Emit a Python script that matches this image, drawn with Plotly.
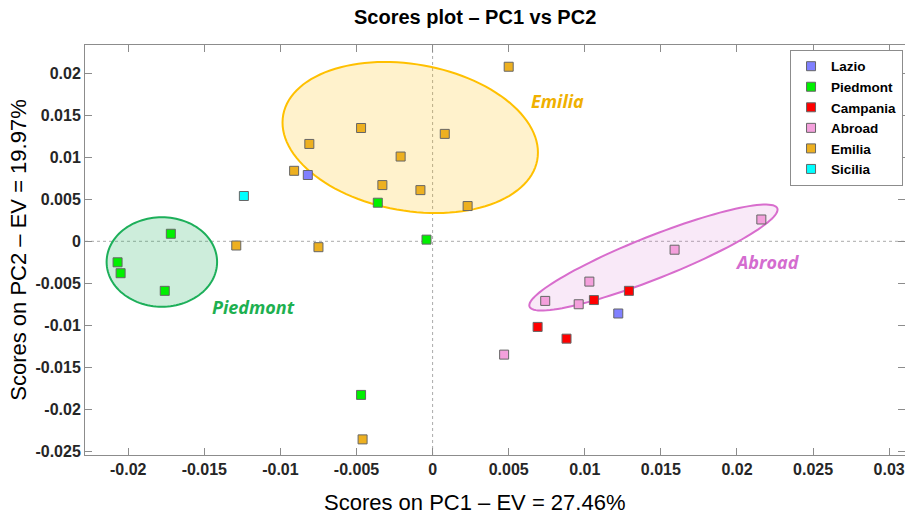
import numpy as np
import plotly.graph_objects as go

# PCA scores (PC1, PC2) per origin
groups = ["Lazio", "Piedmont", "Campania", "Abroad", "Emilia", "Sicilia"]

lazio_x = [-0.0082, 0.0122]
lazio_y = [0.0079, -0.0086]

piedmont_x = [-0.0172, -0.0207, -0.0205, -0.0176, -0.0036, -0.0004, -0.0047]
piedmont_y = [0.0009, -0.0025, -0.0038, -0.0059, 0.0046, 0.0002, -0.0183]

campania_x = [0.0069, 0.0088, 0.0106, 0.0129]
campania_y = [-0.0102, -0.0116, -0.0070, -0.0059]

abroad_x = [0.0216, 0.0159, 0.0103, 0.0074, 0.0096, 0.0047]
abroad_y = [0.0026, -0.0010, -0.0048, -0.0071, -0.0075, -0.0135]

emilia_x = [0.0050, -0.0047, -0.0081, -0.0021, 0.0008, -0.0091,
            -0.0033, -0.0008, 0.0023, -0.0129, -0.0075, -0.0046]
emilia_y = [0.0208, 0.0135, 0.0116, 0.0101, 0.0128, 0.0084,
            0.0067, 0.0061, 0.0042, -0.0005, -0.0007, -0.0236]

sicilia_x = [-0.0124]
sicilia_y = [0.0054]

x_ticks = [-0.02, -0.015, -0.01, -0.005, 0, 0.005, 0.01, 0.015, 0.02, 0.025, 0.03]
x_tick_text = ["-0.02", "-0.015", "-0.01", "-0.005", "0", "0.005", "0.01",
               "0.015", "0.02", "0.025", "0.03"]
y_ticks = [-0.025, -0.02, -0.015, -0.01, -0.005, 0, 0.005, 0.01, 0.015, 0.02]
y_tick_text = ["-0.025", "-0.02", "-0.015", "-0.01", "-0.005", "0", "0.005",
               "0.01", "0.015", "0.02"]

# Cluster ellipses: centre, first half-axis vector, second half-axis vector
ellipse_names = ["Emilia", "Piedmont", "Abroad"]
ellipse_centres = [(-0.00147, 0.01237), (-0.01779, -0.00246), (0.01451, -0.00193)]
ellipse_axis_a = [(0.00838, -0.00133), (0.00363, 0.0), (0.00814, 0.00586)]
ellipse_axis_b = [(-0.00043, 0.00890), (0.0, 0.00533), (0.000515, -0.00235)]
ellipse_line = ["#FFC000", "#1DAF5A", "#D86DCD"]
ellipse_fill = ["rgba(255,192,0,0.20)", "rgba(29,175,90,0.22)", "rgba(216,109,205,0.15)"]

# Cluster name labels
label_text = ["Emilia", "Piedmont", "Abroad"]
label_x = [0.0082, -0.0118, 0.0220]
label_y = [0.0167, -0.0078, -0.0025]
label_color = ["#F0B000", "#1DB050", "#D46CCF"]

colors = {
    "Lazio": "#8080FF",
    "Piedmont": "#00F000",
    "Campania": "#FF0000",
    "Abroad": "#F4A0DC",
    "Emilia": "#EDB020",
    "Sicilia": "#00FFFF",
}
series = {
    "Lazio": (lazio_x, lazio_y),
    "Piedmont": (piedmont_x, piedmont_y),
    "Campania": (campania_x, campania_y),
    "Abroad": (abroad_x, abroad_y),
    "Emilia": (emilia_x, emilia_y),
    "Sicilia": (sicilia_x, sicilia_y),
}

fig = go.Figure()

for g in groups:
    xs, ys = series[g]
    fig.add_trace(go.Scatter(
        x=xs, y=ys, mode="markers", name=f"<b>{g}</b>",
        marker=dict(symbol="square", size=9, color=colors[g],
                    line=dict(color="#666666", width=1)),
    ))

shapes = []
t = np.linspace(0, 2 * np.pi, 121)
for c, a, b, lc, fc in zip(ellipse_centres, ellipse_axis_a, ellipse_axis_b,
                           ellipse_line, ellipse_fill):
    px = c[0] + a[0] * np.cos(t) + b[0] * np.sin(t)
    py = c[1] + a[1] * np.cos(t) + b[1] * np.sin(t)
    path = "M " + " L ".join(f"{u:.6f},{v:.6f}" for u, v in zip(px, py)) + " Z"
    shapes.append(dict(type="path", path=path, xref="x", yref="y",
                       line=dict(color=lc, width=2), fillcolor=fc, layer="below"))

# dotted zero reference lines
shapes.append(dict(type="line", xref="x", yref="paper", x0=0, x1=0, y0=0, y1=1,
                   line=dict(color="#AAAAAA", width=1, dash="dot"), layer="below"))
shapes.append(dict(type="line", xref="paper", yref="y", x0=0, x1=1, y0=0, y1=0,
                   line=dict(color="#AAAAAA", width=1, dash="dot"), layer="below"))

annotations = []
for txt, lx, ly, lc in zip(label_text, label_x, label_y, label_color):
    annotations.append(dict(
        x=lx, y=ly, xref="x", yref="y", text=f"<b><i>{txt}</i></b>",
        showarrow=False, font=dict(family="Open Sans", size=18, color=lc)))

# x-axis title, placed as a paper annotation below the tick labels
annotations.append(dict(
    x=0.4756, y=-0.117, xref="paper", yref="paper", xanchor="center", yanchor="middle",
    text="Scores on PC1 – EV = 27.46%", showarrow=False,
    font=dict(family="Liberation Sans", size=22, color="#000000")))

axis_common = dict(
    showline=True, linecolor="#8C8C8C", linewidth=1, mirror="ticks",
    ticks="inside", ticklen=7, tickcolor="#8C8C8C", showgrid=False,
    zeroline=False,
    tickfont=dict(family="Liberation Sans", size=16, color="#262626"),
)

fig.update_layout(
    width=905, height=515,
    margin=dict(l=85, r=0, t=45, b=60),
    paper_bgcolor="white", plot_bgcolor="white",
    title=dict(text="<b>Scores plot – PC1 vs PC2</b>", x=0.525, xanchor="center",
               y=0.967, yanchor="middle",
               font=dict(family="Liberation Sans", size=20, color="#000000")),
    xaxis=dict(range=[-0.02284, 0.03104], tickvals=x_ticks,
               ticktext=[f"<b>{s}</b>" for s in x_tick_text],
               **axis_common),
    yaxis=dict(range=[-0.02546, 0.02339], tickvals=y_ticks,
               ticktext=[f"<b>{s}</b>" for s in y_tick_text],
               title=dict(text="Scores on PC2 – EV = 19.97%", standoff=2,
                          font=dict(family="Liberation Sans", size=22, color="#000000")),
               **axis_common),
    legend=dict(x=0.8598, y=0.988, xanchor="left", yanchor="top",
                bordercolor="#8C8C8C", borderwidth=1, bgcolor="white",
                font=dict(family="Liberation Sans", size=13.5, color="#000000"),
                itemclick=False),
    shapes=shapes,
    annotations=annotations,
    showlegend=True,
)

fig.write_html("out.html")
